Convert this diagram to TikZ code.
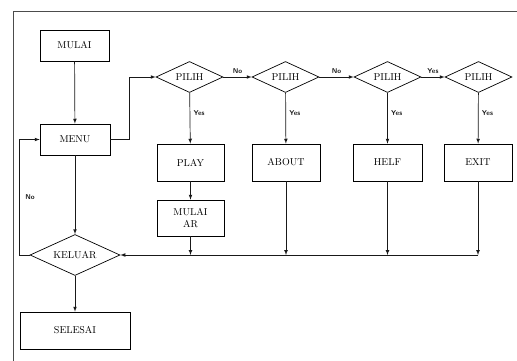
\documentclass[tikz,border=0pt]{standalone}
\usepackage{tikz}
\usetikzlibrary{shapes.geometric}

\begin{document}
\begin{tikzpicture}[x=1pt,y=-1pt,>=latex,
  kotak/.style={rectangle,draw,line width=0.7pt,inner sep=0pt,align=center},
  pilihan/.style={diamond,draw,line width=0.7pt,inner sep=0pt,aspect=2},
  garis/.style={line width=0.7pt,black!90},
  ket/.style={font=\sffamily\bfseries\scriptsize}]
\useasboundingbox (0,0) rectangle (517,361);
\draw[line width=0.8pt,black!70] (517,11) -- (13,11) -- (13,361);

\node[kotak,minimum width=69pt,minimum height=31pt] (mulai) at (74.5,45.5) {MULAI};
\node[kotak,minimum width=70pt,minimum height=31pt] (menu) at (75,139.5) {MENU};

\node[pilihan,minimum width=67pt,minimum height=31pt] (pilih1) at (189.5,77) {PILIH};
\node[pilihan,minimum width=67pt,minimum height=31pt] (pilih2) at (285.5,77) {PILIH};
\node[pilihan,minimum width=67pt,minimum height=31pt] (pilih3) at (387.5,77) {PILIH};
\node[pilihan,minimum width=67pt,minimum height=31pt] (pilih4) at (478.5,77) {PILIH};

\node[kotak,minimum width=67pt,minimum height=37pt] (play) at (190.5,162.5) {PLAY};
\node[kotak,minimum width=68pt,minimum height=37pt] (about) at (286,162.5) {ABOUT};
\node[kotak,minimum width=69pt,minimum height=37pt] (helf) at (387.5,162.5) {HELF};
\node[kotak,minimum width=68pt,minimum height=37pt] (exit) at (478,162.5) {EXIT};
\node[kotak,minimum width=67pt,minimum height=36pt] (mulaiar) at (190.5,218) {MULAI\\AR};

\node[pilihan,minimum width=90pt,minimum height=41pt] (keluar) at (75,255) {KELUAR};
\node[kotak,minimum width=110pt,minimum height=37pt] (selesai) at (75,330.5) {SELESAI};

\coordinate (j1) at (190.5,255);
\coordinate (j2) at (286,255);
\coordinate (j3) at (387.5,255);
\coordinate (j4) at (478,255);

\draw[garis,->] (mulai) -- (menu);
\draw[garis,->] (menu.east) -- ++(19,0) |- (pilih1.west);
\draw[garis,->] (pilih1) -- node[ket,right,pos=0.4] {Yes} (play);
\draw[garis,->] (pilih2) -- node[ket,right,pos=0.4] {Yes} (about);
\draw[garis,->] (pilih3) -- node[ket,right,pos=0.4] {Yes} (helf);
\draw[garis,->] (pilih4) -- node[ket,right,pos=0.4] {Yes} (exit);
\draw[garis,->] (pilih1) -- node[ket,above] {No} (pilih2);
\draw[garis,->] (pilih2) -- node[ket,above] {No} (pilih3);
\draw[garis,->] (pilih3) -- node[ket,above] {Yes} (pilih4);
\draw[garis,->] (play) -- (mulaiar);
\draw[garis,->] (mulaiar) -- (j1);
\draw[garis,->] (about) -- (j2);
\draw[garis,->] (helf) -- (j3);
\draw[garis,->] (exit) -- (j4);
\draw[garis,->] (j4) -- (keluar.east);
\draw[garis,->] (menu) -- (keluar);
\draw[garis,->] (keluar.west) -- ++(-10,0) |- node[ket,pos=0.25,right,xshift=2pt] {No} (menu.west);
\draw[garis,->] (keluar) -- (selesai);
\end{tikzpicture}
\end{document}
